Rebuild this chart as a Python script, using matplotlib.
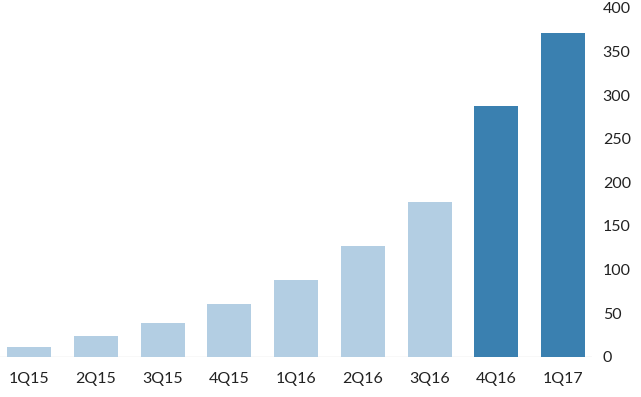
import matplotlib
matplotlib.use('Agg')
from matplotlib import pyplot as plt

quarters = ['1Q15', '2Q15', '3Q15', '4Q15', '1Q16', '2Q16', '3Q16', '4Q16', '1Q17']
values = [11, 24, 39, 60, 88, 127, 178, 287, 371]
highlight = [False, False, False, False, False, False, False, True, True]

light = '#b3cee3'
dark = '#3a80b0'

plt.rcParams['font.family'] = ['Lato', 'DejaVu Sans']

fig = plt.figure(figsize=(6.41, 3.97), dpi=100)
ax = fig.add_axes([0.0, 0.1015, 0.923, 0.8785])

x = list(range(len(quarters)))
colors = [dark if h else light for h in highlight]
ax.bar(x, values, width=0.66, color=colors, edgecolor='none', zorder=2)
ax.axhline(0, color='#dedede', linewidth=1, zorder=1)

ax.set_xlim(-0.44, 8.43)
ax.set_ylim(0, 400)
ax.set_yticks(range(0, 401, 50))
ax.set_xticks(x)
ax.set_xticklabels(quarters)
ax.yaxis.tick_right()
ax.tick_params(axis='y', length=0, pad=8, labelsize=11.5, labelcolor='#222222')
ax.tick_params(axis='x', length=0, pad=11, labelsize=11.5, labelcolor='#222222')
for s in ax.spines.values():
    s.set_visible(False)

fig.savefig('out.png', dpi=100)
